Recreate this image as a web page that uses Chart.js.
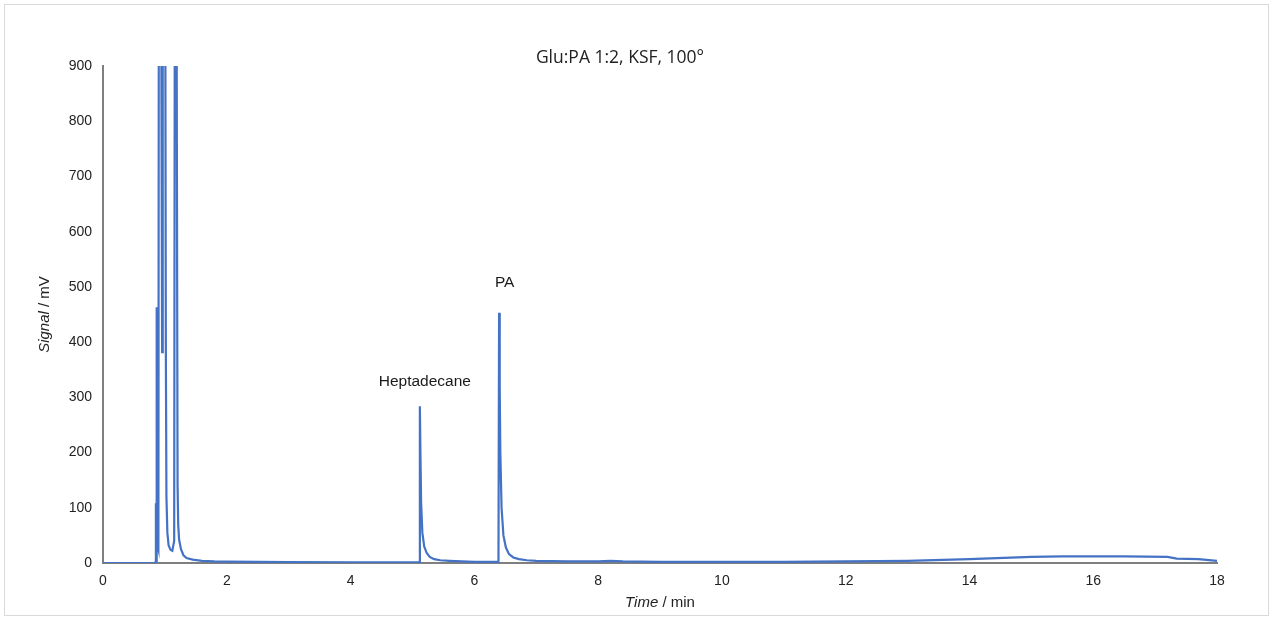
<!DOCTYPE html>
<html>
<head>
<meta charset="utf-8">
<script src="https://cdn.jsdelivr.net/npm/chart.js@4.4.0/dist/chart.umd.min.js"></script>
<style>
    html, body { margin: 0; padding: 0; background: #fff; }
    #wrap { position: relative; width: 1273px; height: 619px; }
</style>
</head>
<body>
<div id="wrap"><canvas id="gcChart" width="1273" height="619"></canvas></div>
<script>
// retention time (min) and detector signal (mV)
var timeMin = [0, 0.84, 0.85, 0.855, 0.86, 0.865, 0.87, 0.875, 0.885, 0.895, 0.905, 0.93, 0.955, 0.965, 0.975, 1.0, 1.015,
    1.025, 1.04, 1.06, 1.09, 1.12, 1.15, 1.165, 1.18, 1.195, 1.205, 1.215, 1.23, 1.26, 1.3, 1.35, 1.45, 1.6, 1.8, 2.0, 3.0, 4.0,
    5.1, 5.11, 5.12, 5.13, 5.14, 5.16, 5.19, 5.23, 5.28, 5.35, 5.45, 5.6, 5.8, 6.0, 6.37,
    6.39, 6.4, 6.41, 6.42, 6.44, 6.47, 6.51, 6.56, 6.63, 6.72, 6.85, 7.0, 7.5, 8.0, 8.2, 8.4,
    9.0, 10.0, 11.0, 12.0, 13.0, 14.0, 15.0, 15.5, 16.5, 17.2, 17.35, 17.7, 18.0];
var signalMv = [0, 0, 2, 108, 4, 30, 463, 60, 30, 25, 1500, 1500, 382, 1500, 1500, 1500, 400,
    120, 55, 32, 24, 22, 40, 1500, 1500, 1500, 140, 70, 42, 25, 14, 9, 6, 4, 3, 2.5, 1.5, 1,
    1, 2, 284, 190, 110, 55, 30, 18, 11, 7, 5, 4, 3, 2, 2,
    2, 453, 320, 200, 100, 50, 28, 16, 10, 7, 5, 4, 3, 3, 4, 3,
    2, 2, 2, 3, 4, 7, 11, 12, 12, 11, 8, 7, 4];
var xTicks = [0, 2, 4, 6, 8, 10, 12, 14, 16, 18];
var yTicks = [0, 100, 200, 300, 400, 500, 600, 700, 800, 900];
var peakNames = ['Heptadecane', 'PA'];
var peakLabelAt = [[5.2, 328], [6.49, 507]];

var points = timeMin.map(function (t, i) { return { x: t, y: signalMv[i] }; });

// border, title, axis titles (mixed italic) and peak labels
var decorations = {
    id: 'decorations',
    beforeDraw: function (chart) {
        var ctx = chart.ctx;
        ctx.save();
        ctx.fillStyle = '#fff';
        ctx.fillRect(0, 0, chart.width, chart.height);
        ctx.strokeStyle = '#d9d9d9';
        ctx.lineWidth = 1;
        ctx.strokeRect(4.5, 4.5, chart.width - 9, chart.height - 8);
        ctx.restore();
    },
    afterDraw: function (chart) {
        var ctx = chart.ctx, xs = chart.scales.x, ys = chart.scales.y;
        var area = chart.chartArea;
        ctx.save();
        ctx.fillStyle = '#222';
        ctx.textBaseline = 'middle';
        ctx.textAlign = 'center';
        ctx.font = '17.5px "Open Sans", sans-serif';
        ctx.fillText('Glu:PA 1:2, KSF, 100°', 620, 58);

        function mixed(parts, cx, cy) {
            var w = 0;
            parts.forEach(function (p) { ctx.font = p[1]; w += ctx.measureText(p[0]).width; });
            var x = cx - w / 2;
            ctx.textAlign = 'left';
            parts.forEach(function (p) {
                ctx.font = p[1];
                ctx.fillText(p[0], x, cy);
                x += ctx.measureText(p[0]).width;
            });
        }
        ctx.fillStyle = '#222';
        mixed([['Time', 'italic 15px "Liberation Sans"'], [' / min', '15px "Liberation Sans"']],
            (area.left + area.right) / 2, 603);
        ctx.save();
        ctx.translate(45, (area.top + area.bottom) / 2);
        ctx.rotate(-Math.PI / 2);
        mixed([['Signal', 'italic 15px "Liberation Sans"'], [' / mV', '15px "Liberation Sans"']], 0, 0);
        ctx.restore();

        ctx.textAlign = 'center';
        ctx.font = '15.5px "Liberation Sans"';
        ctx.fillStyle = '#1a1a1a';
        peakNames.forEach(function (name, i) {
            ctx.fillText(name, xs.getPixelForValue(peakLabelAt[i][0]), ys.getPixelForValue(peakLabelAt[i][1]));
        });
        ctx.restore();
    }
};

new Chart(document.getElementById('gcChart'), {
    type: 'line',
    data: {
        datasets: [{
            data: points,
            borderColor: '#4472C4',
            borderWidth: 2.2,
            pointRadius: 0,
            tension: 0,
            fill: false
        }]
    },
    options: {
        responsive: false,
        animation: false,
        layout: { padding: { left: 0, right: 56, top: 66, bottom: 0 } },
        plugins: {
            legend: { display: false },
            tooltip: { enabled: false }
        },
        scales: {
            x: {
                type: 'linear',
                min: 0,
                max: 18,
                afterFit: function (scale) { scale.height = 56; },
                afterBuildTicks: function (scale) {
                    scale.ticks = xTicks.map(function (v) { return { value: v }; });
                },
                grid: { display: false, drawTicks: false },
                border: { display: true, color: '#7f7f7f', width: 2 },
                ticks: {
                    padding: 10,
                    color: '#222',
                    font: { family: 'Liberation Sans', size: 14 }
                }
            },
            y: {
                min: 0,
                max: 900,
                afterFit: function (scale) { scale.width = 103; },
                afterBuildTicks: function (scale) {
                    scale.ticks = yTicks.map(function (v) { return { value: v }; });
                },
                grid: { display: false, drawTicks: false },
                border: { display: true, color: '#7f7f7f', width: 2 },
                ticks: {
                    padding: 11,
                    color: '#222',
                    font: { family: 'Liberation Sans', size: 14 }
                }
            }
        }
    },
    plugins: [decorations]
});
</script>
</body>
</html>
